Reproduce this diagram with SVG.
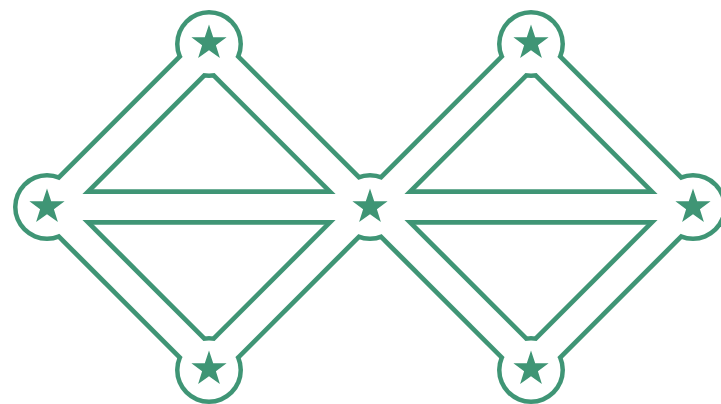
<svg xmlns="http://www.w3.org/2000/svg" width="721" height="404" viewBox="0 0 721 404">
<style>
.halo{fill:#3f9575}
.eo{stroke:#3f9575;stroke-width:35.5;fill:none}
.ei{stroke:#ffffff;stroke-width:26;fill:none}
.nf{fill:#ffffff}
.star{fill:#3f9575}
</style>
<defs>
<polygon id="star" points="0,-18.5 4.2,-5.8 17.6,-5.7 6.9,2.2 10.9,15 0,7.3 -10.9,15 -6.9,2.2 -17.6,-5.7 -4.2,-5.8"/>
</defs>
<g id="node-halos">
<circle class="halo" cx="47" cy="207" r="34"/>
<circle class="halo" cx="209" cy="44" r="34"/>
<circle class="halo" cx="209" cy="370" r="34"/>
<circle class="halo" cx="370" cy="207" r="34"/>
<circle class="halo" cx="531" cy="44" r="34"/>
<circle class="halo" cx="531" cy="370" r="34"/>
<circle class="halo" cx="693" cy="207" r="34"/>
</g>
<g id="connectors">
<g class="eo">
<line x1="51" y1="207" x2="209" y2="49"/>
<line x1="209" y1="49" x2="367" y2="207"/>
<line x1="367" y1="207" x2="209" y2="365"/>
<line x1="209" y1="365" x2="51" y2="207"/>
<line x1="47" y1="207" x2="370" y2="207"/>
<line x1="373" y1="207" x2="531" y2="49"/>
<line x1="531" y1="49" x2="689" y2="207"/>
<line x1="689" y1="207" x2="531" y2="365"/>
<line x1="531" y1="365" x2="373" y2="207"/>
<line x1="370" y1="207" x2="693" y2="207"/>
</g>
<g class="ei">
<line x1="51" y1="207" x2="209" y2="49"/>
<line x1="209" y1="49" x2="367" y2="207"/>
<line x1="367" y1="207" x2="209" y2="365"/>
<line x1="209" y1="365" x2="51" y2="207"/>
<line x1="47" y1="207" x2="370" y2="207"/>
<line x1="373" y1="207" x2="531" y2="49"/>
<line x1="531" y1="49" x2="689" y2="207"/>
<line x1="689" y1="207" x2="531" y2="365"/>
<line x1="531" y1="365" x2="373" y2="207"/>
<line x1="370" y1="207" x2="693" y2="207"/>
</g>
</g>
<g id="n-left"><circle class="nf" cx="47" cy="207" r="29.5"/><use href="#star" class="star" x="47" y="207"/></g>
<g id="n-top1"><circle class="nf" cx="209" cy="44" r="29.5"/><use href="#star" class="star" x="209" y="43"/></g>
<g id="n-bottom1"><circle class="nf" cx="209" cy="370" r="29.5"/><use href="#star" class="star" x="209" y="369"/></g>
<g id="n-center"><circle class="nf" cx="370" cy="207" r="29.5"/><use href="#star" class="star" x="370" y="207"/></g>
<g id="n-top2"><circle class="nf" cx="531" cy="44" r="29.5"/><use href="#star" class="star" x="531" y="43"/></g>
<g id="n-bottom2"><circle class="nf" cx="531" cy="370" r="29.5"/><use href="#star" class="star" x="531" y="369"/></g>
<g id="n-right"><circle class="nf" cx="693" cy="207" r="29.5"/><use href="#star" class="star" x="693" y="207"/></g>
</svg>
